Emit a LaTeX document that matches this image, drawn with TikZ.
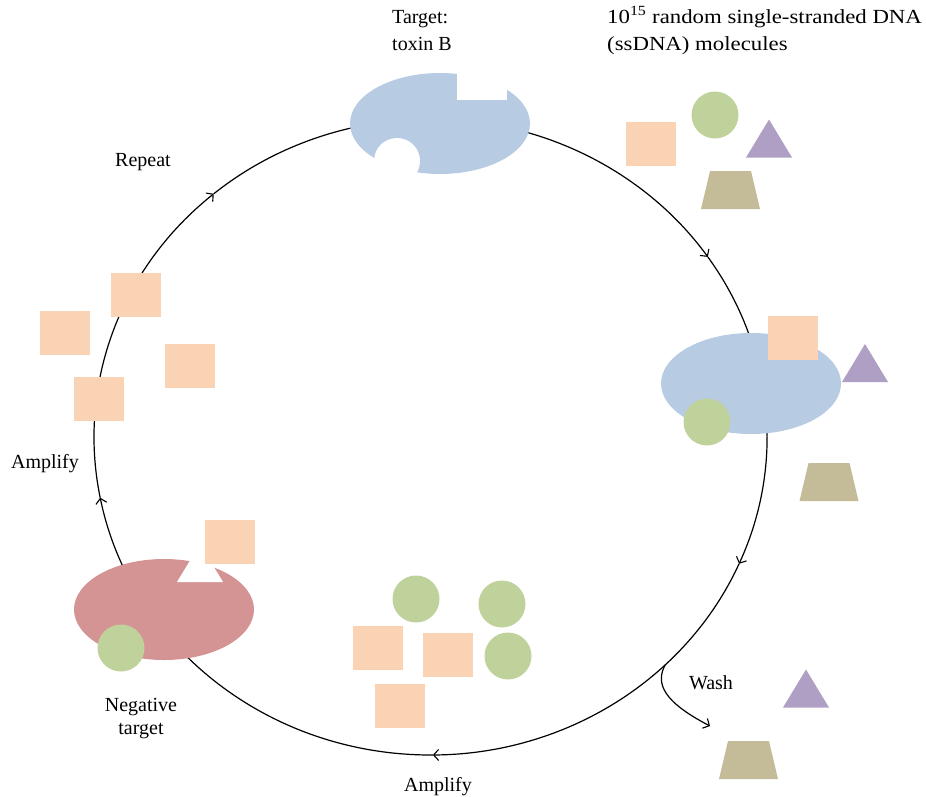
\documentclass[tikz,border=0pt]{standalone}
\usepackage{fontspec}
\setmainfont{Liberation Serif}
\newfontfamily\widefont[FakeStretch=1.14]{Liberation Serif}
\usetikzlibrary{arrows.meta,calc}
\definecolor{cblue}{HTML}{B7CBE2}
\definecolor{cred}{HTML}{D49494}
\definecolor{cgreen}{HTML}{C0D29C}
\definecolor{cpeach}{HTML}{F9D3B4}
\definecolor{cpurple}{HTML}{AF9FC5}
\definecolor{ckhaki}{HTML}{C4BC98}
\tikzset{
  cyc/.style={line width=1.2pt, -{Straight Barb[length=5pt,width=11pt,line width=1.1pt]}},
  sq/.style={fill=cpeach, draw=none, minimum width=50pt, minimum height=44pt, inner sep=0pt},
  circ/.style={fill=cgreen, draw=none, circle, minimum size=47pt, inner sep=0pt},
  lbl/.style={inner sep=0pt, font=\fontsize{20}{27}\selectfont},
  tri/.pic={\fill[cpurple] (-23,19) -- (23,19) -- (0,-19) -- cycle;},
  trap/.pic={\fill[ckhaki] (-29.5,19) -- (29.5,19) -- (20.5,-19) -- (-20.5,-19) -- cycle;}
}
\begin{document}
\begin{tikzpicture}[x=1pt,y=-1pt]
\useasboundingbox (0,0) rectangle (926,796);
\coordinate (C) at (430.5,437);
% cycle
\draw[cyc] (C) ++(-130.1:336.5 and 318) arc[start angle=-130.1, end angle=-34.5, x radius=336.5, y radius=318];
\draw[cyc] (C) ++(-34.5:336.5 and 318) arc[start angle=-34.5, end angle=23.5, x radius=336.5, y radius=318];
\draw[cyc] (C) ++(23.5:336.5 and 318) arc[start angle=23.5, end angle=89.6, x radius=336.5, y radius=318];
\draw[cyc] (C) ++(89.6:336.5 and 318) arc[start angle=89.6, end angle=169, x radius=336.5, y radius=318];
\draw[cyc] (C) ++(169:336.5 and 318) arc[start angle=169, end angle=229.9, x radius=336.5, y radius=318];
% wash branch
\coordinate (W0) at ($(C)+(45.8:336.5 and 318)$);
\coordinate (W1) at (710,726);
\draw[cyc] (W0) .. controls (655,684) and (664,702) .. (W1);
% targets
\fill[cblue] (440,123.5) ellipse [x radius=90, y radius=50.5];
\fill[white] (457,60) rectangle (507,100);
\fill[white] (397,161) circle [radius=23];
\fill[cblue] (751,383.5) ellipse [x radius=90, y radius=50.5];
\fill[cred] (164,609.5) ellipse [x radius=90, y radius=50.5];
\fill[white] (177,582) -- (223,582) -- (200,544) -- cycle;
% top-right pool
\node[sq] (p1) at (651,144) {};
\node[circ] (g1) at (715,115) {};
\pic at (769,138.5) {tri};
\pic at (730.5,190) {trap};
% bound on right target
\node[sq] (p2) at (793,338) {};
\node[circ] (g2) at (707,422) {};
\pic at (865,363) {tri};
\pic at (829,482) {trap};
% washed
\pic at (806,688.5) {tri};
\pic at (748.5,760) {trap};
% bottom amplified
\node[circ] (g3) at (416,599) {};
\node[circ] (g4) at (502,604) {};
\node[circ] (g5) at (508,656) {};
\node[sq] (p3) at (378,648) {};
\node[sq] (p4) at (448,655) {};
\node[sq] (p5) at (400,706) {};
% negative target
\node[sq] (p6) at (230,541.5) {};
\node[circ] (g6) at (121,648) {};
% left amplified
\node[sq] (p7) at (136,295) {};
\node[sq] (p8) at (65,333) {};
\node[sq] (p9) at (190,366) {};
\node[sq] (p10) at (99,399) {};
% labels
\node[lbl, anchor=base west] (t1) at (392,23) {Target:};
\node[lbl, anchor=base west] (t2) at (392,50) {toxin B};
\node[lbl, anchor=base west] (t3) at (607,23) {\widefont 10\textsuperscript{15} random single-stranded DNA};
\node[lbl, anchor=base west] (t4) at (607,50) {\widefont (ssDNA) molecules};
\node[lbl, anchor=base] (t5) at (143,166) {Repeat};
\node[lbl, anchor=base] (t6) at (45,468) {Amplify};
\node[lbl, anchor=base] (t7) at (141,711) {Negative};
\node[lbl, anchor=base] (t8) at (141,734) {target};
\node[lbl, anchor=base] (t9) at (711,689) {Wash};
\node[lbl, anchor=base] (t10) at (438,791) {Amplify};
\end{tikzpicture}
\end{document}
